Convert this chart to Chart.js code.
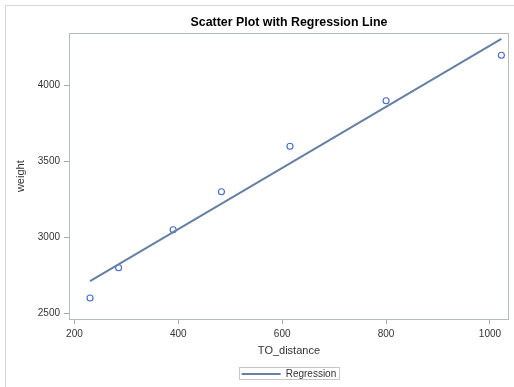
<!DOCTYPE html>
<html>
<head>
<meta charset="utf-8">
<script src="https://cdn.jsdelivr.net/npm/chart.js@4"></script>
<style>
  body { margin: 0; background: #fff; }
  canvas { display: block; }
</style>
</head>
<body>
<canvas id="scatter-reg" width="514" height="387"></canvas>
<script>
// values
const distance = [230, 285, 390, 483, 615, 800, 1022]
const weight = [2600, 2800, 3050, 3300, 3600, 3900, 4200]
const fitX = [230, 1022]
const fitY = [2712, 4308]
const xTicks = [200, 400, 600, 800, 1000]
const yTicks = [2500, 3000, 3500, 4000]

const FONT = "'Liberation Sans', Arial, sans-serif"
const frameColor = '#b4bbc1'
const tickColor = '#a4a9ad'
const textColor = '#333333'

function toPoints(xs, ys) {
    return xs.map((x, i) => ({ x: x, y: ys[i] }))
}

// frame round the plot, outer border and legend box
const framePlugin = {
    id: 'frame',
    beforeDraw(chart) {
        const ctx = chart.ctx
        ctx.save()
        ctx.strokeStyle = '#d6d6d6'
        ctx.lineWidth = 1
        ctx.beginPath()
        ctx.moveTo(5.5, chart.height)
        ctx.lineTo(5.5, 5.5)
        ctx.lineTo(chart.width, 5.5)
        ctx.stroke()
        ctx.restore()
    },
    afterDraw(chart) {
        const ctx = chart.ctx
        const a = chart.chartArea
        ctx.save()
        ctx.strokeStyle = frameColor
        ctx.lineWidth = 1
        ctx.strokeRect(Math.round(a.left) + 0.5, Math.round(a.top) + 0.5,
            Math.round(a.right - a.left) - 1, Math.round(a.bottom - a.top))
        const hb = chart.legend.legendHitBoxes[0]
        if (hb) {
            const cy = hb.top + hb.height / 2
            ctx.strokeStyle = '#c4c8cc'
            ctx.strokeRect(Math.round(hb.left) - 2.5, Math.round(cy) - 6.5,
                Math.round(hb.width) + 5, 12)
        }
        ctx.restore()
    }
}

const ctx = document.getElementById('scatter-reg')
new Chart(ctx, {
    type: 'scatter',
    data: {
        datasets: [{
            label: 'weight',
            data: toPoints(distance, weight),
            pointStyle: 'circle',
            pointRadius: 3,
            pointBorderWidth: 1.1,
            backgroundColor: 'rgba(0,0,0,0)',
            borderColor: '#4667cc',
            order: 1
        }, {
            type: 'line',
            label: 'Regression',
            data: toPoints(fitX, fitY),
            showLine: true,
            borderColor: '#6680a3',
            backgroundColor: '#6680a3',
            borderWidth: 2,
            pointRadius: 0,
            order: 0
        }]
    },
    options: {
        responsive: false,
        animation: false,
        devicePixelRatio: 1,
        layout: {
            padding: { top: 0, left: 0, right: 4, bottom: -2 }
        },
        plugins: {
            title: {
                display: true,
                text: 'Scatter Plot with Regression Line',
                fullSize: false,
                color: '#000',
                font: { family: FONT, size: 12.4, weight: 'bold' },
                padding: { top: 15, bottom: 3.5 }
            },
            legend: {
                display: true,
                position: 'bottom',
                fullSize: false,
                labels: {
                    filter: item => item.datasetIndex === 1,
                    usePointStyle: true,
                    pointStyle: 'line',
                    pointStyleWidth: 39,
                    color: textColor,
                    font: { family: FONT, size: 10 },
                    padding: 10
                }
            },
            tooltip: { enabled: false }
        },
        scales: {
            x: {
                type: 'linear',
                min: 189.5,
                max: 1036.5,
                afterBuildTicks: s => { s.ticks = xTicks.map(v => ({ value: v })) },
                afterFit: s => { s.height = 40 },
                grid: { drawOnChartArea: false, tickLength: 5, color: tickColor },
                border: { display: false },
                ticks: {
                    color: textColor, font: { family: FONT, size: 10 }, padding: 4, maxRotation: 0,
                    callback: v => String(v)
                },
                title: {
                    display: true,
                    text: 'TO_distance',
                    color: textColor,
                    font: { family: FONT, size: 11 },
                    padding: { top: 0, bottom: 1 }
                }
            },
            y: {
                type: 'linear',
                min: 2462,
                max: 4344,
                afterBuildTicks: s => { s.ticks = yTicks.map(v => ({ value: v })) },
                afterFit: s => { s.width = 69 },
                grid: { drawOnChartArea: false, tickLength: 5, color: tickColor },
                border: { display: false },
                ticks: {
                    color: textColor, font: { family: FONT, size: 10 }, padding: 4,
                    callback: v => String(v)
                },
                title: {
                    display: true,
                    text: 'weight',
                    color: textColor,
                    font: { family: FONT, size: 11 },
                    padding: { top: 14, bottom: 0 }
                }
            }
        }
    },
    plugins: [framePlugin]
})
</script>
</body>
</html>
